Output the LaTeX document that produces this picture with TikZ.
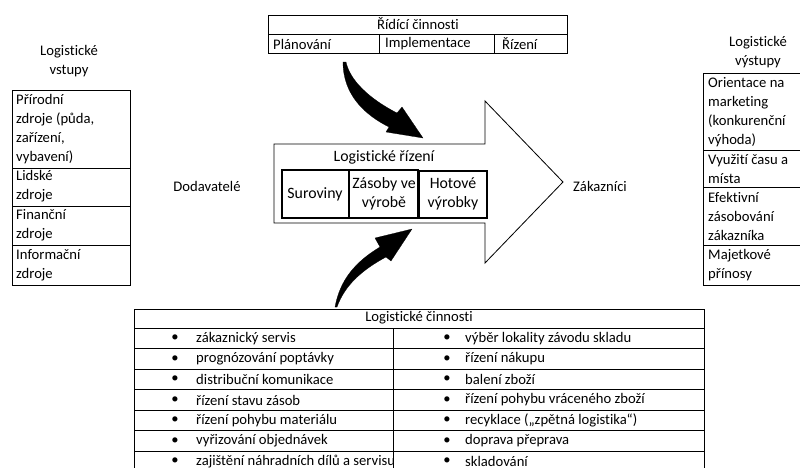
\documentclass[tikz,border=0pt]{standalone}
\usepackage{fontspec}
\setmainfont{Carlito}[Ligatures=NoCommon]
\begin{document}
\begin{tikzpicture}[x=0.03cm,y=-0.03cm]

    \tikzstyle{txt} = [inner sep=0pt, font=\fontsize{12.5}{16.2}\selectfont];
    \tikzstyle{bigtxt} = [inner sep=0pt, font=\fontsize{13.5}{16.2}\selectfont];
    \tikzstyle{ln} = [line width=0.7pt];
    \tikzstyle{bentarrow} = [fill=black, draw=black, line width=0.2pt, line join=round];

    \useasboundingbox (0,0) rectangle (800,467);
    \clip (0,0) rectangle (800,467);

    \node[txt, align=center] (vstupy) at (69,61) {Logistické\\vstupy};
    \draw[ln] (12,90) rectangle (130,285);
    \draw[ln] (12,168) -- (130,168) (12,206) -- (130,206) (12,245) -- (130,245);
    \node[txt, align=left, anchor=west] (in1) at (16,129) {Přírodní\\zdroje (půda,\\zařízení,\\vybavení)};
    \node[txt, align=left, anchor=west] (in2) at (16,186) {Lidské\\zdroje};
    \node[txt, align=left, anchor=west] (in3) at (16,225) {Finanční\\zdroje};
    \node[txt, align=left, anchor=west] (in4) at (16,265) {Informační\\zdroje};

    \node[txt, align=center] (vystupy) at (758,52) {Logistické\\výstupy};
    \draw[ln] (703,73) -- (810,73) (703,150) -- (810,150) (703,187) -- (810,187) (703,245) -- (810,245) (703,285) -- (810,285);
    \draw[ln] (703,73) -- (703,285);
    \node[txt, align=left, anchor=west] (out1) at (708,112) {Orientace na\\marketing\\(konkurenční\\výhoda)};
    \node[txt, align=left, anchor=west] (out2) at (708,169) {Využití času a\\místa};
    \node[txt, align=left, anchor=west] (out3) at (708,216) {Efektivní\\zásobování\\zákazníka};
    \node[txt, align=left, anchor=west] (out4) at (708,265) {Majetkové\\přínosy};

    \draw[ln] (268,15) rectangle (567,53);
    \draw[ln] (268,34) -- (567,34) (379,34) -- (379,53) (494,34) -- (494,53);
    \node[txt] (ridici) at (418,24) {Řídící činnosti};
    \node[txt, anchor=west] (plan) at (273,44) {Plánování};
    \node[txt, anchor=west] (impl) at (385,44) {Implementace};
    \node[txt, anchor=west] (riz) at (502,44) {Řízení};

    \draw[ln, line join=miter] (274,144) -- (485,144) -- (485,101) -- (563,182) -- (485,263) -- (485,223) -- (274,223) -- cycle;
    \node[bigtxt] (rizeni) at (384,157) {Logistické řízení};
    \draw[line width=0.9pt] (282,170) rectangle (349,218) (349,170) rectangle (418,218) (419,171) rectangle (487,218);
    \node[bigtxt] (sur) at (315,194) {Suroviny};
    \node[bigtxt, align=center] (zas) at (384,194) {Zásoby ve\\výrobě};
    \node[bigtxt, align=center] (hot) at (453,194) {Hotové\\výrobky};

    \node[txt] (dod) at (207,186) {Dodavatelé};
    \node[txt] (zak) at (600,186) {Zákazníci};

    \fill[bentarrow] (343,62) .. controls (343,95) and (365,115) .. (389,127) -- (386,132) -- (423,138) -- (402,107) -- (397,113) .. controls (368,98) and (350,80) .. (346,62) -- cycle;
    \fill[bentarrow] (335,307) .. controls (340,280) and (355,262) .. (380,247) -- (375,238) -- (412,229) -- (391,261) -- (386,257) .. controls (362,270) and (345,285) .. (337,307) -- cycle;

    \draw[ln] (134,480) -- (134,309) -- (704,309) -- (704,480);
    \draw[ln] (134,328) -- (704,328) (393,328) -- (393,480);
    \node[txt] (cinnosti) at (419,318) {Logistické činnosti};
    \foreach \l/\r [count=\i] in {zákaznický servis/výběr lokality závodu skladu,
        prognózování poptávky/řízení nákupu,
        distribuční komunikace/balení zboží,
        řízení stavu zásob/řízení pohybu vráceného zboží,
        řízení pohybu materiálu/recyklace („zpětná logistika“),
        vyřizování objednávek/doprava přeprava,
        zajištění náhradních dílů a servisu/skladování} {
        \draw[ln] (134,328+20.5*\i) -- (704,328+20.5*\i);
        \node[txt] (lb\i) at (175,318+20.5*\i) {\textbullet};
        \node[txt, anchor=west] (l\i) at (196,318+20.5*\i) {\l};
        \node[txt] (rb\i) at (447,318+20.5*\i) {\textbullet};
        \node[txt, anchor=west] (r\i) at (465,318+20.5*\i) {\r};
    }

\end{tikzpicture}
\end{document}
